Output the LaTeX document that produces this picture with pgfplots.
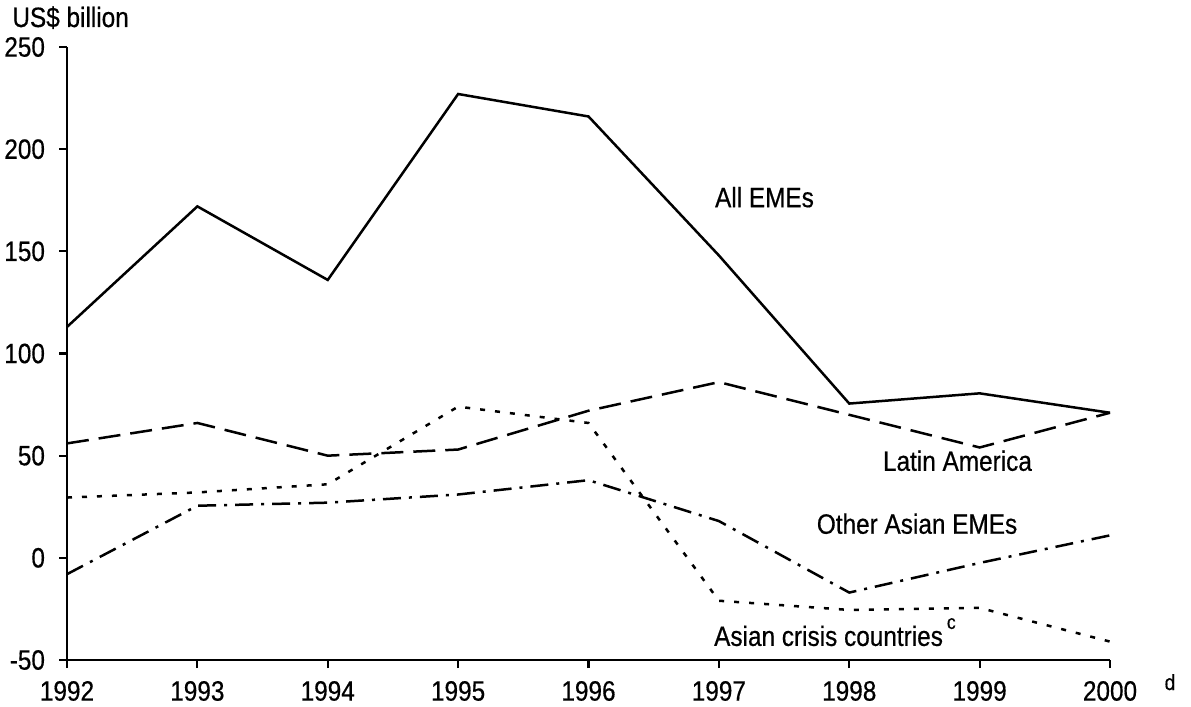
\documentclass[border=0pt]{standalone}
\usepackage{pgfplots}
\pgfplotsset{compat=1.18}
\usepackage{fontspec}
\setmainfont{Liberation Sans}[FakeStretch=0.87, FakeBold=0.5]
\begin{document}
\begin{tikzpicture}
\begin{axis}[
  scale only axis,
  width=521.5pt, height=306.5pt,
  xmin=1992, xmax=2000, ymin=-50, ymax=250,
  axis x line*=bottom, axis y line*=left,
  axis line style={line width=1.3pt},
  tick align=outside,
  major tick length=4pt,
  tick style={line width=1.1pt, black},
  xtick={1992,1993,1994,1995,1996,1997,1998,1999,2000},
  xticklabels={1992,1993,1994,1995,1996,1997,1998,1999,2000},
  ytick={-50,0,50,100,150,200,250},
  yticklabels={-50,0,50,100,150,200,250},
  ticklabel style={font=\fontsize{14}{16}\selectfont},
  xticklabel style={yshift=-3pt},
  yticklabel style={xshift=-3.5pt},
  clip=false,
]
\addplot[black, line width=1.25pt] coordinates {
 (1992,113) (1993,172) (1994,136) (1995,227) (1996,216) (1997,148) (1998,75.5) (1999,80.5) (2000,71)};
\addplot[black, line width=1.25pt, dash pattern=on 11pt off 5pt] coordinates {
 (1992,56) (1993,66) (1994,50) (1995,53) (1996,72) (1997,86) (1998,70) (1999,54) (2000,71)};
\addplot[black, line width=1.25pt, dash pattern=on 2.5pt off 5pt] coordinates {
 (1992,29.5) (1993,32) (1994,36) (1995,74) (1996,66) (1997,-21) (1998,-25.5) (1999,-24.5) (2000,-41)};
\addplot[black, line width=1.25pt, dash pattern=on 9pt off 4pt on 1.5pt off 4pt] coordinates {
 (1992,-8) (1993,25.5) (1994,27) (1995,31) (1996,38) (1997,18) (1998,-17) (1999,-2.5) (2000,11)};
\node[font=\fontsize{14}{16}\selectfont, anchor=base, inner sep=0pt] at (axis cs:1997.35,171.6) {All EMEs};
\node[font=\fontsize{14}{16}\selectfont, anchor=base, inner sep=0pt] at (axis cs:1998.83,42.6) {Latin America};
\node[font=\fontsize{14}{16}\selectfont, anchor=base, inner sep=0pt] at (axis cs:1998.52,11.8) {Other Asian EMEs};
\node[font=\fontsize{14}{16}\selectfont, anchor=base, inner sep=0pt] at (axis cs:1997.89,-43.1) {Asian crisis countries\hspace{2pt}\raisebox{8.5pt}{\fontsize{10}{12}\selectfont c}};
\node[font=\fontsize{14}{16}\selectfont, anchor=base west, inner sep=0pt] at (rel axis cs:0,1) [xshift=-27.5pt, yshift=10pt] {US\$ billion};
\node[font=\fontsize{11}{12}\selectfont, anchor=base, inner sep=0pt] at (axis cs:2000,-50) [xshift=30pt, yshift=-15pt] {d};
\coordinate (bl) at (rel axis cs:0,0);
\coordinate (tr) at (rel axis cs:1,1);
\end{axis}
\pgfresetboundingbox
\path[use as bounding box] ([xshift=-33.5pt,yshift=-23pt]bl) rectangle ([xshift=40.5pt,yshift=23.5pt]tr);
\end{tikzpicture}
\end{document}
